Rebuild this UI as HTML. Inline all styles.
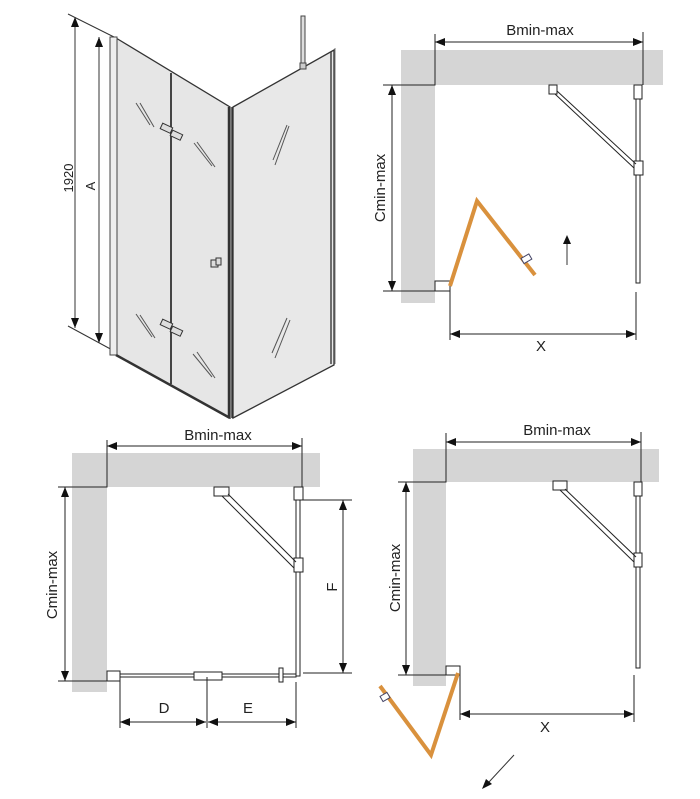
<!DOCTYPE html>
<html><head><meta charset="utf-8"><style>
html,body{margin:0;padding:0;background:#fff;}
svg{display:block;}
text{font-family:"Liberation Sans",Arial,sans-serif;fill:#222;}
</style></head><body>
<svg width="700" height="799" viewBox="0 0 700 799" xmlns="http://www.w3.org/2000/svg">
<defs>
<marker id="a" markerWidth="10" markerHeight="8" refX="10" refY="4" orient="auto-start-reverse" markerUnits="userSpaceOnUse">
<path d="M0,0 L10,4 L0,8 z" fill="#111"/></marker>
</defs>

<!-- ========== 3D VIEW ========== -->
<g stroke="#333" stroke-width="1" fill="none">
<!-- dimension extension lines -->
<line x1="68" y1="14" x2="116" y2="38"/>
<line x1="68" y1="326" x2="116" y2="352"/>
<line x1="75" y1="17" x2="75" y2="328" marker-start="url(#a)" marker-end="url(#a)"/>
<line x1="99" y1="37" x2="99" y2="343" marker-start="url(#a)" marker-end="url(#a)"/>
</g>
<text transform="translate(73,178) rotate(-90)" font-size="13" text-anchor="middle">1920</text>
<text transform="translate(95,186) rotate(-90)" font-size="13" text-anchor="middle">A</text>

<!-- left door panels -->
<polygon points="116,38 230,107 230,418 116,355" fill="#e6e6e6" stroke="#333" stroke-width="1.3"/>
<line x1="171" y1="73" x2="171" y2="384" stroke="#444" stroke-width="2"/>
<rect x="110" y="37" width="7" height="318" fill="#eee" stroke="#444" stroke-width="1"/>
<line x1="116" y1="355" x2="230" y2="418" stroke="#333" stroke-width="2.5"/>
<!-- right panel -->
<polygon points="233,107 334,50 334,365 233,418" fill="#e8e8e8" stroke="#333" stroke-width="1.3"/>
<line x1="229" y1="107" x2="229" y2="418" stroke="#333" stroke-width="2.5"/>
<line x1="232" y1="107" x2="232" y2="418" stroke="#333" stroke-width="1.5"/>
<line x1="331" y1="52" x2="331" y2="364" stroke="#444" stroke-width="1.5"/>
<line x1="335" y1="48" x2="335" y2="364" stroke="#777" stroke-width="1"/>
<!-- top rod -->
<rect x="301" y="16" width="4" height="50" fill="#ddd" stroke="#444" stroke-width="1"/>
<rect x="300" y="63" width="6" height="6" fill="#ccc" stroke="#444"/>
<!-- hinges & knob -->
<g fill="#ddd" stroke="#333" stroke-width="1">
<rect x="161" y="125" width="11" height="6" transform="rotate(25 166 128)"/>
<rect x="171" y="132" width="11" height="6" transform="rotate(25 176 135)"/>
<rect x="161" y="321" width="11" height="6" transform="rotate(25 166 324)"/>
<rect x="171" y="328" width="11" height="6" transform="rotate(25 176 331)"/>
<rect x="211" y="260" width="7" height="7"/><rect x="216" y="258" width="5" height="7"/>
</g>
<!-- glass reflections -->
<g stroke="#555" stroke-width="1">
<line x1="136" y1="103" x2="150" y2="125"/><line x1="140" y1="103" x2="154" y2="127"/>
<line x1="194" y1="143" x2="212" y2="166"/><line x1="197" y1="142" x2="215" y2="167"/>
<line x1="136" y1="314" x2="152" y2="337"/><line x1="140" y1="315" x2="155" y2="338"/>
<line x1="193" y1="354" x2="212" y2="377"/><line x1="197" y1="352" x2="215" y2="378"/>
<line x1="287" y1="125" x2="273" y2="160"/><line x1="289" y1="126" x2="275" y2="165"/>
<line x1="287" y1="318" x2="272" y2="353"/><line x1="290" y1="320" x2="275" y2="358"/>
</g>

<!-- ========== TOP RIGHT PLAN ========== -->
<g>
<rect x="401" y="50" width="262" height="35" fill="#d5d5d5"/>
<rect x="401" y="50" width="34" height="253" fill="#d5d5d5"/>
<g stroke="#222" stroke-width="1" fill="none">
<polyline points="383,85 435,85 435,34"/>
<line x1="383" y1="291" x2="450" y2="291"/>
<line x1="643" y1="32" x2="643" y2="85"/>
<line x1="435" y1="42" x2="643" y2="42" marker-start="url(#a)" marker-end="url(#a)"/>
<line x1="392" y1="85" x2="392" y2="291" marker-start="url(#a)" marker-end="url(#a)"/>
<line x1="450" y1="286" x2="450" y2="340"/>
<line x1="636" y1="292" x2="636" y2="340"/>
<line x1="450" y1="334" x2="636" y2="334" marker-start="url(#a)" marker-end="url(#a)"/>
<rect x="435" y="281" width="15" height="10" fill="#fff"/>
<rect x="549" y="85" width="8" height="9" fill="#fff"/>
<rect x="634" y="85" width="8" height="14" fill="#fff"/>
<rect x="636" y="99" width="4" height="184" fill="#fff"/>
<rect x="634" y="161" width="9" height="14" fill="#fff"/>
<line x1="555" y1="94" x2="634" y2="168"/>
<line x1="557" y1="91" x2="636" y2="164"/>
</g>
<polyline points="450,286 477,201 535,275" fill="none" stroke="#d9913d" stroke-width="4"/>
<rect x="522" y="256" width="9" height="6" fill="#fff" stroke="#446" stroke-width="1" transform="rotate(-30 526 259)"/>
<line x1="567" y1="265" x2="567" y2="242" stroke="#333" stroke-width="1"/>
<path d="M563,244 L567,235 L571,244 z" fill="#111"/>
<text x="540" y="35" font-size="15" text-anchor="middle">Bmin-max</text>
<text transform="translate(385,188) rotate(-90)" font-size="15" text-anchor="middle">Cmin-max</text>
<text x="541" y="351" font-size="15" text-anchor="middle">X</text>
</g>

<!-- ========== BOTTOM LEFT PLAN ========== -->
<g>
<rect x="72" y="453" width="248" height="34" fill="#d5d5d5"/>
<rect x="72" y="453" width="35" height="239" fill="#d5d5d5"/>
<g stroke="#222" stroke-width="1" fill="none">
<polyline points="58,487 107,487 107,440"/>
<line x1="58" y1="681" x2="107" y2="681"/>
<line x1="302" y1="438" x2="302" y2="487"/>
<line x1="107" y1="446" x2="302" y2="446" marker-start="url(#a)" marker-end="url(#a)"/>
<line x1="65" y1="487" x2="65" y2="681" marker-start="url(#a)" marker-end="url(#a)"/>
<rect x="107" y="671" width="13" height="10" fill="#fff"/>
<rect x="120" y="674" width="176" height="3" fill="#fff"/>
<rect x="194" y="672" width="28" height="8" fill="#fff"/>
<rect x="279" y="668" width="4" height="14" fill="#fff"/>
<rect x="296" y="500" width="4" height="176" fill="#fff"/>
<rect x="294" y="487" width="9" height="13" fill="#fff"/>
<rect x="294" y="558" width="9" height="14" fill="#fff"/>
<rect x="214" y="487" width="15" height="9" fill="#fff"/>
<line x1="222" y1="496" x2="294" y2="568"/>
<line x1="228" y1="494" x2="296" y2="562"/>
<line x1="303" y1="500" x2="352" y2="500"/>
<line x1="303" y1="673" x2="352" y2="673"/>
<line x1="343" y1="500" x2="343" y2="673" marker-start="url(#a)" marker-end="url(#a)"/>
<line x1="120" y1="681" x2="120" y2="728"/>
<line x1="207" y1="677" x2="207" y2="728"/>
<line x1="296" y1="682" x2="296" y2="728"/>
<line x1="120" y1="722" x2="206" y2="722" marker-start="url(#a)" marker-end="url(#a)"/>
<line x1="208" y1="722" x2="296" y2="722" marker-start="url(#a)" marker-end="url(#a)"/>
</g>
<text x="218" y="440" font-size="15" text-anchor="middle">Bmin-max</text>
<text transform="translate(57,585) rotate(-90)" font-size="15" text-anchor="middle">Cmin-max</text>
<text transform="translate(337,587) rotate(-90)" font-size="15" text-anchor="middle">F</text>
<text x="164" y="713" font-size="15" text-anchor="middle">D</text>
<text x="248" y="713" font-size="15" text-anchor="middle">E</text>
</g>

<!-- ========== BOTTOM RIGHT PLAN ========== -->
<g>
<rect x="413" y="449" width="246" height="33" fill="#d5d5d5"/>
<rect x="413" y="449" width="33" height="237" fill="#d5d5d5"/>
<g stroke="#222" stroke-width="1" fill="none">
<polyline points="398,482 446,482 446,433"/>
<line x1="398" y1="675" x2="446" y2="675"/>
<line x1="641" y1="432" x2="641" y2="482"/>
<line x1="446" y1="442" x2="641" y2="442" marker-start="url(#a)" marker-end="url(#a)"/>
<line x1="406" y1="482" x2="406" y2="675" marker-start="url(#a)" marker-end="url(#a)"/>
<rect x="446" y="666" width="14" height="9" fill="#fff"/>
<rect x="553" y="481" width="14" height="9" fill="#fff"/>
<rect x="634" y="482" width="8" height="14" fill="#fff"/>
<rect x="636" y="496" width="4" height="172" fill="#fff"/>
<rect x="634" y="553" width="8" height="14" fill="#fff"/>
<line x1="560" y1="490" x2="634" y2="562"/>
<line x1="565" y1="489" x2="636" y2="557"/>
<line x1="460" y1="675" x2="460" y2="720"/>
<line x1="634" y1="675" x2="634" y2="722"/>
<line x1="460" y1="714" x2="634" y2="714" marker-start="url(#a)" marker-end="url(#a)"/>
</g>
<polyline points="458,673 431,755 380,686" fill="none" stroke="#d9913d" stroke-width="4"/>
<rect x="381" y="694" width="8" height="6" fill="#fff" stroke="#446" stroke-width="1" transform="rotate(-30 385 697)"/>
<line x1="514" y1="755" x2="489" y2="782" stroke="#333" stroke-width="1"/>
<path d="M482,789 L486,779 L492,784 z" fill="#111"/>
<text x="557" y="435" font-size="15" text-anchor="middle">Bmin-max</text>
<text transform="translate(400,578) rotate(-90)" font-size="15" text-anchor="middle">Cmin-max</text>
<text x="545" y="732" font-size="15" text-anchor="middle">X</text>
</g>
</svg>
</body></html>
